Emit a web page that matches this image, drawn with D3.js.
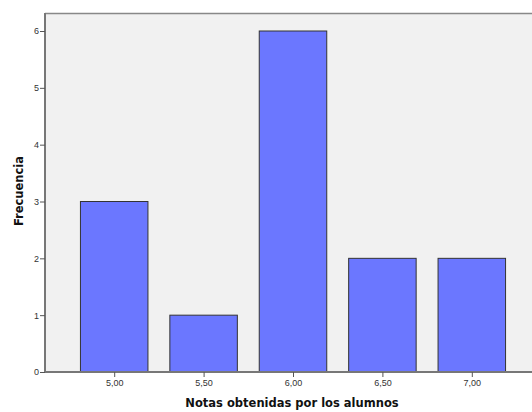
<!DOCTYPE html>
<html><head><meta charset="utf-8">
<script src="https://cdn.jsdelivr.net/npm/d3@7"></script>
<style>body{margin:0;background:#fff}svg{display:block}</style>
</head><body>
<script>
const categories = ["5,00","5,50","6,00","6,50","7,00"];
const frequencies = [3,1,6,2,2];
const yTicks = [0,1,2,3,4,5,6];

const W = 532, H = 412;
const mLeft = 45, mRight = 541, mTop = 13, mBottom = 372;
const svg = d3.select("body").append("svg").attr("width", W).attr("height", H);

const x = d3.scalePoint().domain(categories).range([mLeft, mRight]).padding(0.774);
const y = d3.scaleLinear().domain([0, 6]).range([mBottom, 31]);
const bw = x.step() * 0.755;

svg.append("rect").attr("x", mLeft).attr("y", mTop).attr("width", mRight - mLeft).attr("height", mBottom - mTop).attr("fill", "#f1f1f1");

svg.selectAll("rect.bar").data(frequencies).join("rect").attr("class","bar")
  .attr("x", (d,i) => x(categories[i]) - bw/2)
  .attr("y", d => y(d))
  .attr("width", bw)
  .attr("height", d => mBottom - y(d))
  .attr("fill", "#6b77ff").attr("stroke", "#333").attr("stroke-width", 1);

svg.append("line").attr("x1", mLeft).attr("x2", mRight).attr("y1", mTop + 0.5).attr("y2", mTop + 0.5).attr("stroke", "#888").attr("stroke-width", 1.5);

const yAxis = svg.append("g").attr("transform", `translate(${mLeft},0)`)
  .call(d3.axisLeft(y).tickValues(yTicks).tickFormat(d3.format("d")).tickSize(5).tickSizeOuter(0));
const xAxis = svg.append("g").attr("transform", `translate(0,${mBottom})`)
  .call(d3.axisBottom(x).tickSize(5).tickSizeOuter(0));
[yAxis, xAxis].forEach(g => {
  g.select(".domain").attr("stroke", "#777").attr("stroke-width", 2);
  g.selectAll(".tick line").attr("stroke", "#555").attr("stroke-width", 1);
  g.selectAll("text").attr("fill", "#333").attr("font-family", "Liberation Sans, Arial, sans-serif").attr("font-size", 9);
});
yAxis.select(".domain").attr("d", `M0,${mTop}V${mBottom}`);
xAxis.select(".domain").attr("d", `M${mLeft},0H${mRight}`);
yAxis.selectAll("text").attr("x", -6);
xAxis.selectAll("text").attr("y", 8);

svg.append("text").attr("x", 292).attr("y", 407).attr("text-anchor", "middle")
  .attr("font-family", "DejaVu Sans, sans-serif").attr("font-weight", "bold").attr("font-size", 11.5)
  .attr("fill", "#111").text("Notas obtenidas por los alumnos");
svg.append("text").attr("transform", "translate(23,191) rotate(-90)").attr("text-anchor", "middle")
  .attr("font-family", "DejaVu Sans, sans-serif").attr("font-weight", "bold").attr("font-size", 11.5)
  .attr("fill", "#111").text("Frecuencia");
</script>
</body></html>
